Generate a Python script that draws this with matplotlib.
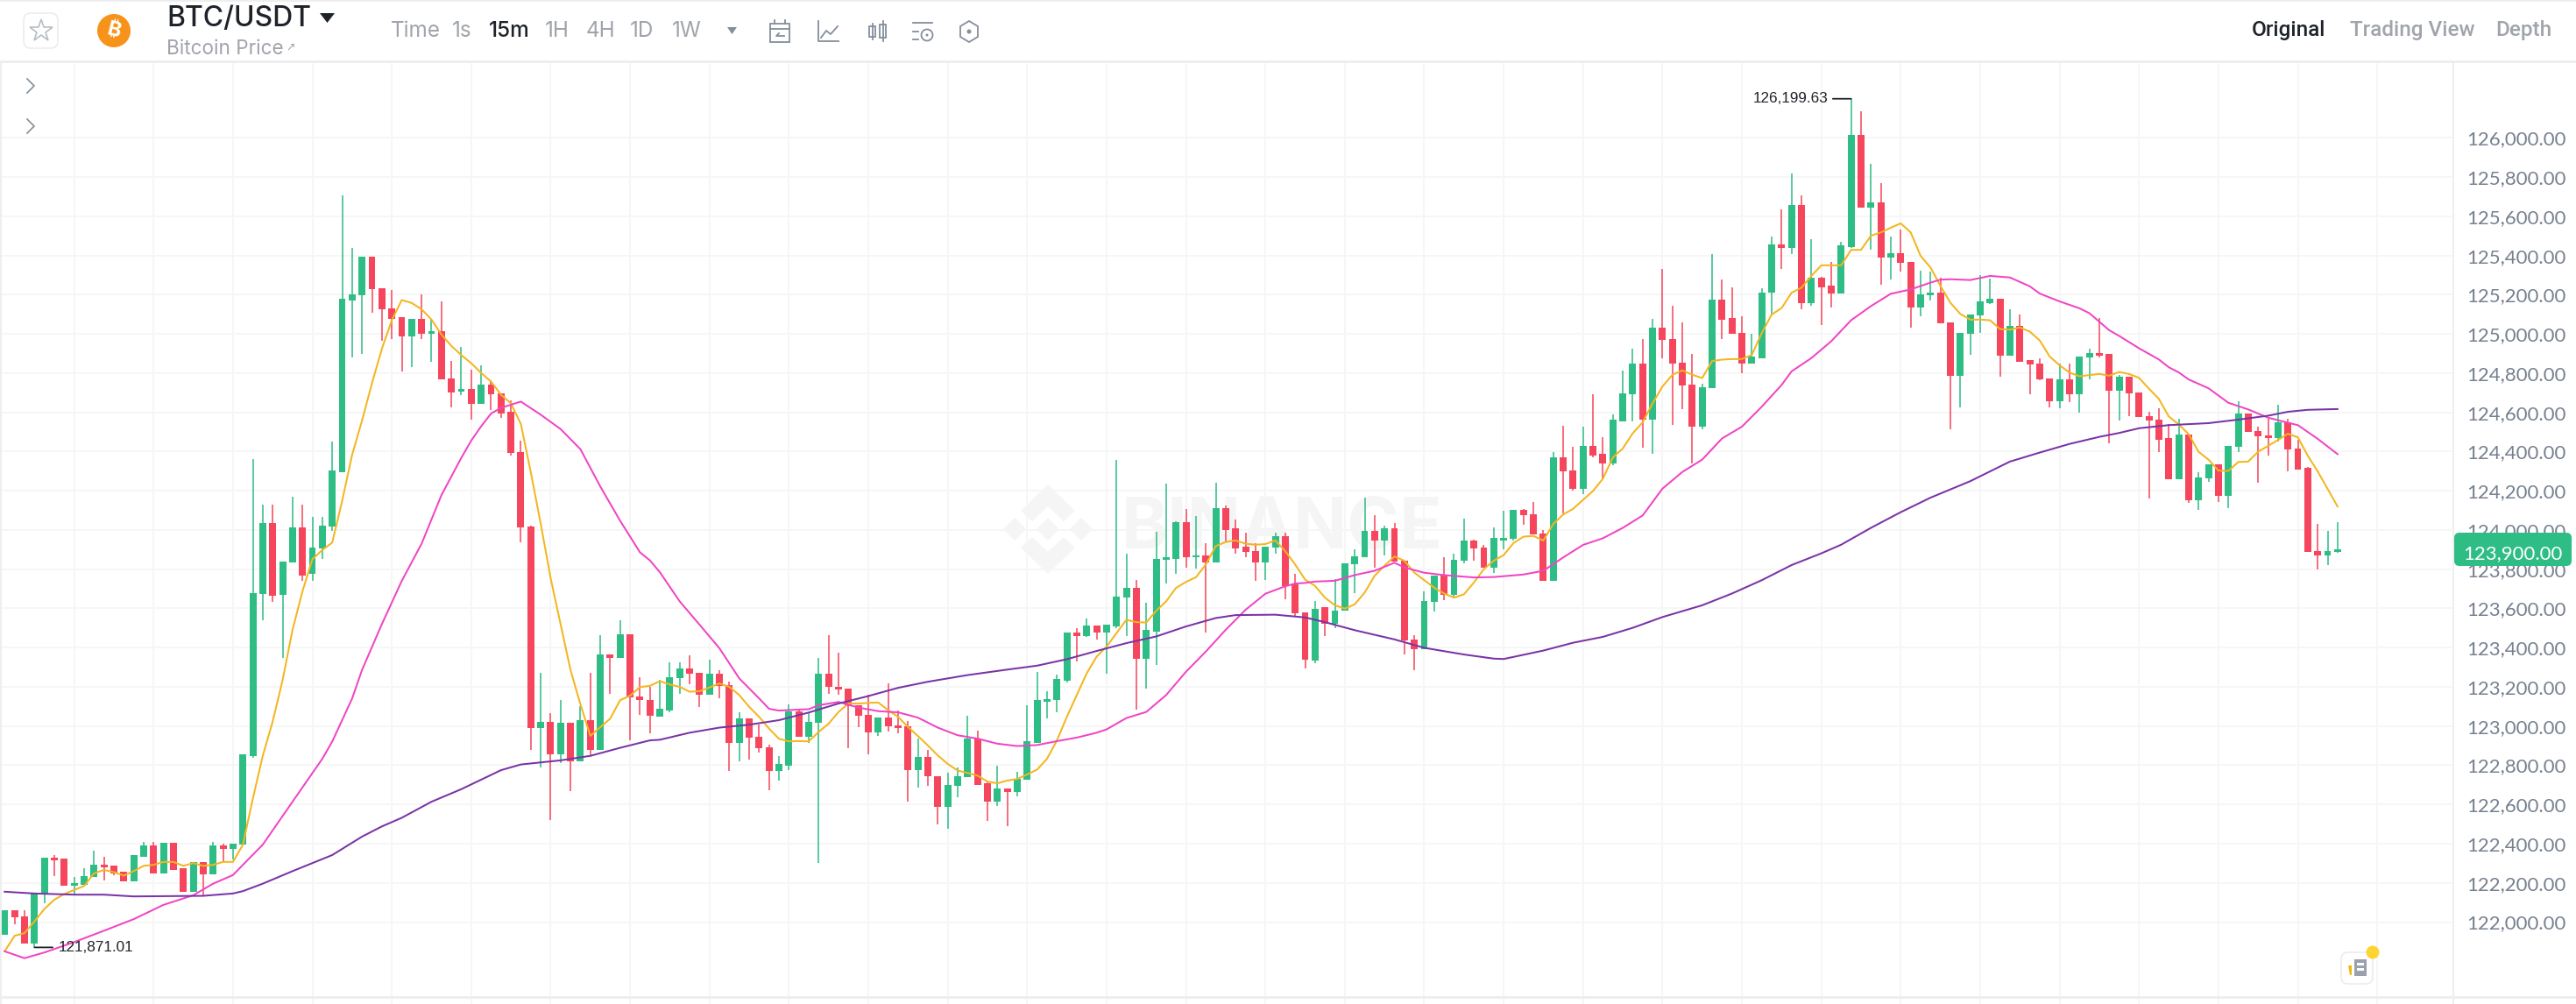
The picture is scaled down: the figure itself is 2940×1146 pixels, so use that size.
import matplotlib
matplotlib.use("Agg")
import matplotlib.pyplot as plt
import numpy as np
from matplotlib.patches import Circle, FancyBboxPatch, Polygon, Rectangle

# =====================================================================
# Candle data (BTC/USDT 15m)
# =====================================================================
opens = [
    121936, 122059, 122031, 121892, 122144, 122329, 122322, 122185, 122191, 122230,
    122293, 122287, 122256, 122209, 122335, 122391, 122247, 122404, 122273, 122153,
    122308, 122244, 122391, 122372, 122395, 122848, 123672, 124035, 123667, 123836,
    124012, 123775, 123906, 124017, 124295, 125170, 125196, 125395, 125234, 125132,
    125085, 124988, 125076, 125000, 125015, 124775, 124705, 124719, 124643, 124743,
    124699, 124602, 124398, 124017, 122988, 123023, 122857, 123017, 122819, 123029,
    122877, 123365, 123348, 123468, 123152, 123135, 123050, 123081, 123243, 123293,
    123272, 123158, 123269, 123209, 122912, 123038, 122946, 122893, 122770, 122799,
    123074, 122947, 123017, 123269, 123202, 123192, 123105, 123058, 122966, 123045,
    123004, 123000, 122775, 122843, 122746, 122589, 122693, 122739, 122935, 122708,
    122614, 122682, 122665, 122727, 122915, 123125, 123132, 123233, 123477, 123460,
    123511, 123477, 123508, 123655, 123706, 123344, 123482, 123846, 123853, 124038,
    123860, 123872, 123836, 124111, 124009, 123913, 123894, 123834, 123911, 123969,
    123722, 123580, 123336, 123607, 123523, 123587, 123826, 123860, 123994, 123946,
    124009, 123843, 123443, 123390, 123634, 123766, 123669, 123843, 123946, 123911,
    123806, 123946, 123954, 124103, 124079, 123980, 123741, 124370, 124303, 124212,
    124428, 124387, 124339, 124554, 124691, 124851, 124564, 125034, 124975, 124855,
    124740, 124527, 124722, 125176, 125081, 125004, 124848, 124877, 125209, 125458,
    125439, 125657, 125157, 125287, 125245, 125205, 125445, 126016, 125645, 125673,
    125388, 125412, 125369, 125134, 125196, 125212, 125061, 124787, 125000, 125096,
    125157, 125181, 124888, 125042, 124866, 124851, 124775, 124655, 124769, 124694,
    124879, 124903, 124896, 124710, 124781, 124701, 124580, 124563, 124467, 124258,
    124489, 124150, 124265, 124333, 124172, 124423, 124595, 124503, 124483, 124469,
    124549, 124417, 124317, 123894, 123870, 123888,
]
highs = [
    122059, 122059, 122059, 122144, 122329, 122342, 122322, 122228, 122273, 122363,
    122332, 122287, 122256, 122341, 122407, 122407, 122404, 122404, 122273, 122308,
    122308, 122407, 122400, 122400, 122857, 124363, 124129, 124129, 123839, 124170,
    124129, 124067, 124067, 124453, 125708, 125439, 125395, 125395, 125234, 125225,
    125085, 125076, 125202, 125076, 125164, 124863, 124933, 124816, 124839, 124763,
    124699, 124661, 124456, 124023, 123272, 123067, 123132, 123017, 123102, 123272,
    123462, 123365, 123538, 123468, 123251, 123199, 123235, 123325, 123325, 123359,
    123272, 123337, 123286, 123226, 123069, 123038, 123009, 122906, 122848, 123110,
    123088, 123069, 123347, 123462, 123375, 123192, 123105, 123158, 123045, 123217,
    123081, 123024, 122935, 122876, 122746, 122761, 122790, 123053, 122978, 122720,
    122799, 122682, 122765, 123106, 123277, 123178, 123264, 123477, 123498, 123547,
    123511, 123515, 124357, 123881, 123744, 123631, 123990, 124238, 124043, 124106,
    124072, 123935, 124243, 124127, 124055, 123987, 123935, 123916, 123987, 123987,
    123778, 123580, 123638, 123607, 123749, 123831, 123903, 124164, 124074, 124023,
    124036, 123843, 123464, 123686, 123766, 123860, 123877, 124057, 123950, 123925,
    124014, 124100, 124103, 124108, 124142, 124000, 124399, 124530, 124424, 124527,
    124691, 124472, 124588, 124814, 124925, 124974, 125079, 125330, 125142, 125060,
    124900, 124744, 125407, 125279, 125236, 125089, 125000, 125234, 125499, 125634,
    125819, 125709, 125484, 125291, 125369, 125469, 126199.63, 126136, 125866, 125770,
    125499, 125534, 125369, 125324, 125316, 125287, 125061, 125006, 125101, 125299,
    125281, 125181, 125124, 125101, 124866, 124876, 124775, 124848, 124851, 124885,
    124925, 125082, 124896, 124790, 124781, 124701, 124603, 124619, 124539, 124569,
    124489, 124293, 124333, 124333, 124427, 124657, 124595, 124529, 124569, 124641,
    124569, 124459, 124320, 124030, 123994, 124038,
]
lows = [
    121936, 121987, 121889, 121871.01, 122096, 122236, 122187, 122141, 122191, 122230,
    122212, 122240, 122209, 122209, 122335, 122247, 122247, 122265, 122153, 122153,
    122133, 122244, 122305, 122320, 122390, 122839, 123541, 123634, 123348, 123836,
    123740, 123740, 123854, 123994, 124295, 124880, 124898, 125108, 124965, 124974,
    124807, 124830, 124974, 124857, 124769, 124626, 124687, 124561, 124643, 124611,
    124570, 124380, 123936, 122877, 122789, 122520, 122810, 122667, 122819, 122848,
    122877, 123164, 123348, 122927, 123058, 122962, 123050, 123069, 123166, 123214,
    123098, 123158, 123144, 122770, 122819, 122828, 122865, 122674, 122722, 122775,
    122947, 122913, 122301, 123166, 123161, 122889, 122993, 122857, 122949, 122970,
    122965, 122614, 122688, 122696, 122500, 122474, 122636, 122739, 122701, 122517,
    122590, 122491, 122643, 122727, 122913, 123041, 123069, 123221, 123329, 123456,
    123443, 123269, 123499, 123457, 123084, 123192, 123311, 123727, 123778, 123807,
    123805, 123477, 123836, 123939, 123881, 123863, 123742, 123747, 123881, 123645,
    123556, 123294, 123319, 123459, 123498, 123587, 123676, 123860, 123809, 123869,
    123840, 123365, 123284, 123390, 123583, 123641, 123658, 123831, 123843, 123806,
    123783, 123900, 123946, 124028, 123977, 123741, 123741, 124086, 124199, 124182,
    124370, 124262, 124330, 124554, 124552, 124421, 124387, 124875, 124535, 124616,
    124339, 124515, 124722, 124976, 124999, 124800, 124848, 124877, 125099, 125330,
    125407, 125127, 125142, 125045, 125134, 125205, 125440, 125645, 125431, 125252,
    125279, 125316, 125031, 125090, 125172, 125055, 124512, 124627, 124893, 125004,
    125151, 124784, 124888, 124860, 124693, 124762, 124627, 124621, 124652, 124599,
    124769, 124880, 124442, 124557, 124579, 124575, 124160, 124399, 124258, 124258,
    124140, 124102, 124246, 124142, 124110, 124399, 124499, 124243, 124379, 124449,
    124299, 124307, 123890, 123800, 123822, 123882,
]
closes = [
    122059, 122025, 121889, 122144, 122329, 122314, 122187, 122197, 122236, 122293,
    122280, 122247, 122209, 122341, 122391, 122247, 122404, 122265, 122153, 122308,
    122244, 122391, 122372, 122400, 122857, 123678, 124035, 123664, 123839, 124012,
    123769, 123912, 124023, 124304, 125178, 125202, 125395, 125228, 125126, 125079,
    124988, 125076, 125000, 125015, 124769, 124702, 124719, 124643, 124743, 124693,
    124594, 124392, 124012, 122988, 123023, 122857, 123017, 122819, 123029, 122877,
    123365, 123348, 123468, 123146, 123132, 123053, 123086, 123250, 123293, 123265,
    123158, 123269, 123205, 122912, 123038, 122939, 122888, 122770, 122806, 123074,
    122947, 123021, 123269, 123199, 123187, 123101, 123053, 122966, 123045, 122997,
    122990, 122775, 122843, 122744, 122589, 122698, 122742, 122935, 122701, 122614,
    122682, 122665, 122730, 122922, 123132, 123139, 123240, 123477, 123460, 123511,
    123477, 123515, 123662, 123706, 123344, 123489, 123853, 123860, 124038, 123862,
    123872, 123836, 124111, 124002, 123906, 123887, 123834, 123916, 123969, 123713,
    123576, 123337, 123599, 123523, 123588, 123831, 123865, 123994, 123946, 124009,
    123840, 123436, 123390, 123638, 123766, 123669, 123850, 123946, 123906, 123806,
    123959, 123959, 124103, 124076, 123977, 123741, 124371, 124300, 124212, 124428,
    124378, 124339, 124561, 124698, 124851, 124564, 125034, 124968, 124848, 124735,
    124527, 124728, 125176, 125074, 124999, 124848, 124884, 125212, 125458, 125439,
    125657, 125157, 125287, 125239, 125205, 125451, 126016, 125645, 125673, 125388,
    125412, 125364, 125134, 125202, 125212, 125055, 124787, 125006, 125101, 125164,
    125179, 124888, 125042, 124860, 124845, 124767, 124655, 124769, 124694, 124885,
    124903, 124888, 124710, 124784, 124697, 124575, 124558, 124461, 124258, 124489,
    124150, 124270, 124333, 124172, 124427, 124595, 124499, 124477, 124469, 124549,
    124413, 124307, 123890, 123870, 123894, 123900,
]

ma7 = [
    121851, 121930, 121944, 122003, 122067, 122114, 122143, 122164, 122184, 122249,
    122266, 122255, 122237, 122260, 122287, 122292, 122307, 122307, 122287, 122301,
    122287, 122292, 122307, 122307, 122395, 122629, 122848, 123023, 123234, 123491,
    123687, 123851, 123898, 123936, 124149, 124383, 124558, 124748, 124924, 125070,
    125173, 125158, 125126, 125073, 124997, 124939, 124892, 124851, 124801, 124757,
    124690, 124646, 124541, 124295, 124032, 123754, 123520, 123286, 123111, 122950,
    122994, 123038, 123132, 123155, 123199, 123205, 123229, 123212, 123200, 123175,
    123178, 123197, 123217, 123200, 123158, 123098, 123047, 122987, 122935, 122922,
    122923, 122922, 122970, 123012, 123072, 123115, 123115, 123118, 123120, 123081,
    123047, 122995, 122949, 122901, 122850, 122807, 122773, 122761, 122747, 122717,
    122708, 122722, 122730, 122753, 122778, 122833, 122927, 123047, 123158, 123269,
    123354, 123405, 123474, 123542, 123530, 123528, 123588, 123636, 123705, 123735,
    123759, 123824, 123918, 123939, 123947, 123930, 123925, 123928, 123947, 123892,
    123824, 123747, 123715, 123655, 123616, 123599, 123621, 123681, 123766, 123818,
    123865, 123843, 123783, 123744, 123706, 123676, 123655, 123672, 123732, 123800,
    123843, 123872, 123934, 123966, 123970, 123946, 124031, 124079, 124108, 124154,
    124199, 124262, 124370, 124416, 124493, 124549, 124646, 124732, 124792, 124814,
    124792, 124775, 124862, 124869, 124872, 124872, 124893, 125005, 125099, 125132,
    125210, 125236, 125296, 125350, 125350, 125350, 125429, 125429, 125501, 125518,
    125542, 125564, 125518, 125398, 125339, 125245, 125159, 125102, 125073, 125073,
    125070, 125025, 125022, 125033, 125012, 124967, 124885, 124840, 124803, 124784,
    124790, 124796, 124787, 124806, 124796, 124776, 124721, 124669, 124579, 124539,
    124489, 124399, 124359, 124303, 124301, 124347, 124349, 124399, 124429, 124459,
    124491, 124473, 124379, 124299, 124210, 124120,
]

ma25_idx = [
    0, 2, 4, 7, 10, 13, 16, 19, 21, 23, 24, 26, 28, 30, 32, 33, 35, 36, 38, 40, 42, 44, 46,
    47, 48, 49, 50, 52, 54, 56, 58, 60, 62, 64, 65, 66, 68, 70, 72, 74, 76, 77, 78, 80, 81,
    82, 84, 86, 88, 90, 92, 94, 96, 98, 100, 102, 104, 106, 108, 110, 111, 113, 115, 117,
    119, 121, 123, 125, 127, 129, 130, 131, 132, 134, 136, 138, 140, 141, 143, 145, 148,
    150, 153, 155, 157, 159, 161, 163, 165, 167, 169, 171, 173, 175, 177, 179, 180, 182,
    184, 186, 188, 190, 192, 194, 195, 196, 198, 200, 202, 204, 205, 207, 209, 210, 212,
    213, 215, 217, 218, 219, 220, 222, 224, 226, 228, 230, 231, 233, 235,
]
ma25_val = [
    121851, 121816, 121845, 121898, 121956, 122015, 122088, 122137, 122196, 122240, 122292,
    122395, 122541, 122687, 122833, 122921, 123140, 123286, 123520, 123740, 123930, 124178,
    124368, 124456, 124529, 124594, 124623, 124655, 124588, 124515, 124412, 124222, 124047,
    123886, 123845, 123785, 123636, 123517, 123397, 123243, 123141, 123088, 123079, 123084,
    123086, 123106, 123123, 123094, 123076, 123070, 123043, 122992, 122953, 122936, 122910,
    122898, 122903, 122923, 122941, 122966, 122983, 123041, 123072, 123158, 123277, 123380,
    123491, 123593, 123675, 123713, 123727, 123730, 123737, 123741, 123770, 123792, 123833,
    123809, 123782, 123770, 123758, 123760, 123773, 123792, 123860, 123924, 123958, 124011,
    124074, 124211, 124296, 124359, 124467, 124527, 124629, 124740, 124809, 124877, 124963,
    125070, 125142, 125205, 125227, 125262, 125277, 125279, 125275, 125296, 125288, 125243,
    125206, 125166, 125131, 125106, 125019, 124990, 124927, 124870, 124830, 124804, 124768,
    124723, 124649, 124615, 124573, 124547, 124535, 124465, 124387,
]

ma99_idx = [
    0, 3, 7, 10, 13, 20, 23, 24, 26, 29, 33, 36, 38, 40, 43, 46, 50, 52, 56, 59, 62, 65, 66,
    69, 72, 75, 78, 81, 84, 87, 90, 93, 97, 101, 104, 107, 110, 113, 116, 119, 122, 124, 128,
    131, 133, 136, 140, 143, 147, 150, 151, 155, 158, 161, 164, 167, 170, 171, 174, 177, 180,
    183, 185, 188, 191, 194, 197, 198, 200, 202, 205, 208, 211, 213, 215, 218, 222, 225, 228,
    230, 232, 235,
]
ma99_val = [
    122155, 122146, 122140, 122140, 122131, 122134, 122146, 122158, 122196, 122260, 122342,
    122436, 122488, 122532, 122614, 122678, 122775, 122804, 122825, 122848, 122889, 122927,
    122930, 122966, 122992, 123007, 123030, 123069, 123115, 123153, 123195, 123226, 123260,
    123288, 123308, 123341, 123383, 123423, 123457, 123508, 123551, 123566, 123568, 123554,
    123530, 123489, 123442, 123399, 123365, 123344, 123342, 123385, 123425, 123455, 123501,
    123556, 123601, 123616, 123676, 123744, 123821, 123881, 123925, 124011, 124091, 124165,
    124228, 124249, 124299, 124349, 124395, 124439, 124475, 124495, 124519, 124535, 124545,
    124563, 124583, 124603, 124613, 124617,
]

price_ticks = np.arange(122000, 126001, 200)
last_price = 123900.00
high_idx, low_idx = 186, 3

GREEN = "#2ebd85"
RED = "#f6465d"
GRID = "#f6f6f6"
BORDER = "#eeeeee"
GREY = "#a0a4ab"
TICK = "#76808f"

W, H = 2940, 1146
# where the candles sit in the screenshot
X0, X_STEP = 5.3, 11.33
Y126K, Y_PER_USD = 157.4, 0.22378
CHART_TOP, CHART_RIGHT = 70, 2800

plt.rcParams["font.family"] = ["Lato", "DejaVu Sans"]


def px_axes(fig, zorder):
    a = fig.add_axes([0, 0, 1, 1], zorder=zorder)
    a.set_xlim(0, W)
    a.set_ylim(H, 0)
    a.axis("off")
    a.patch.set_visible(False)
    return a


def draw_watermark(a):
    c = "#f5f5f5"
    cx, cy = 1196, 604
    chevron = [(0, -51), (31, -21), (18, -9), (0, -26), (-18, -9), (-31, -21)]
    a.add_patch(Polygon([(cx + x, cy + y) for x, y in chevron], color=c, lw=0))
    a.add_patch(Polygon([(cx + x, cy - y) for x, y in chevron], color=c, lw=0))
    for dx in (-38, 0, 38):
        diamond = [(cx + dx, cy - 13), (cx + dx + 13, cy), (cx + dx, cy + 13), (cx + dx - 13, cy)]
        a.add_patch(Polygon(diamond, color=c, lw=0))
    a.text(1463, 605, "BINANCE", color=c, fontsize=58, fontweight="bold", family="Inter",
           ha="center", va="center")


def draw_candles(ax):
    x = np.arange(len(opens))
    o, h, l, c = map(np.array, (opens, highs, lows, closes))
    up = c >= o
    ax.vlines(x[up], l[up], h[up], color=GREEN, lw=1.4, alpha=0.8, zorder=2)
    ax.vlines(x[~up], l[~up], h[~up], color=RED, lw=1.4, alpha=0.8, zorder=2)
    ax.bar(x[up], (c - o)[up], bottom=o[up], width=0.7, color=GREEN, zorder=3)
    ax.bar(x[~up], (c - o)[~up], bottom=o[~up], width=0.7, color=RED, zorder=3)

    ax.plot(x, ma7, color="#f3b61f", lw=1.45, zorder=4, solid_joinstyle="round")
    ax.plot(ma25_idx, ma25_val, color="#f045c4", lw=1.45, zorder=4)
    ax.plot(ma99_idx, ma99_val, color="#7a33a6", lw=1.45, zorder=4)

    # high / low labels
    hi = highs[high_idx]
    lo = lows[low_idx]
    ax.annotate("", xy=(high_idx, hi), xytext=(-15, 0), textcoords="offset points",
                arrowprops=dict(arrowstyle="-", color="#1e2329", lw=1.3, shrinkA=0, shrinkB=0), zorder=6)
    ax.annotate(f"{hi:,.2f}", xy=(high_idx, hi), xytext=(-18.5, 0), textcoords="offset points",
                ha="right", va="center", fontsize=12.3, family="Liberation Sans", color="#1e2329", zorder=6)
    ax.annotate("", xy=(low_idx, lo), xytext=(15, 0), textcoords="offset points",
                arrowprops=dict(arrowstyle="-", color="#1e2329", lw=1.3, shrinkA=0, shrinkB=0), zorder=6)
    ax.annotate(f"{lo:,.2f}", xy=(low_idx, lo), xytext=(20, 0), textcoords="offset points",
                ha="left", va="center", fontsize=12.3, family="Liberation Sans", color="#1e2329", zorder=6)


def draw_header(a):
    # frame lines
    a.add_patch(Rectangle((0, 0), W, 2, color=BORDER, lw=0))
    a.add_patch(Rectangle((0, CHART_TOP - 1), W, 2.5, color=BORDER, lw=0))
    a.add_patch(Rectangle((0, CHART_TOP), 2, H - CHART_TOP, color=BORDER, lw=0))
    a.add_patch(Rectangle((CHART_RIGHT - 1, CHART_TOP), 2, H - CHART_TOP, color=BORDER, lw=0))
    a.add_patch(Rectangle((0, 1137), W, 2.5, color=BORDER, lw=0))

    # favourite star
    a.add_patch(FancyBboxPatch((31, 19), 31, 32, boxstyle="round,pad=4,rounding_size=8",
                               fc="white", ec=BORDER, lw=1.3))
    a.plot([47], [35], marker="*", ms=19, mfc="white", mec="#b7bdc6", mew=1.2, ls="none")

    # coin
    a.add_patch(Circle((130, 35), 19, color="#f7931a", lw=0))
    a.text(130, 35, "\u20bf", color="white", fontsize=17, fontweight="bold",
           family=["Inter", "Noto Sans", "Roboto", "Open Sans", "DejaVu Sans"],
           ha="center", va="center", rotation=-14)

    a.text(190, 22, "BTC/USDT", fontsize=23, fontweight="medium", family="Inter", color="#1e2329",
           ha="left", va="center")
    a.add_patch(Polygon([(365, 15), (382, 15), (373.5, 26)], color="#1e2329", lw=0))
    a.text(190, 56, "Bitcoin Price", fontsize=16.2, color=GREY, ha="left", va="center", family="Inter")
    a.text(332, 54, "\u2197", fontsize=9, color=GREY, ha="center", va="center", family="DejaVu Sans")

    intervals = [("Time", 446), ("1s", 516), ("15m", 558), ("1H", 622), ("4H", 669), ("1D", 719), ("1W", 767)]
    for name, x in intervals:
        a.text(x, 35, name, fontsize=17.5, ha="left", va="center", family="Inter",
               color="#1e2329" if name == "15m" else GREY,
               fontweight="medium" if name == "15m" else "normal")
    a.add_patch(Polygon([(830, 31), (841, 31), (835.5, 39)], color="#848e9c", lw=0))

    # toolbar icons
    ic = dict(color="#848e9c", lw=1.3)
    a.add_patch(Rectangle((879, 27), 22, 21, fc="none", ec="#848e9c", lw=1.3))
    a.plot([879, 901], [33, 33], **ic)
    a.plot([884, 884], [23, 27], **ic)
    a.plot([896, 896], [23, 27], **ic)
    a.plot([895, 886, 889], [41, 41, 38], **ic)
    a.plot([934, 934, 957], [24, 47, 47], **ic)
    a.plot([937, 943, 948, 956], [43, 35, 39, 30], **ic)
    a.plot([996, 996], [27, 45], **ic)
    a.plot([1008, 1008], [24, 47], **ic)
    a.add_patch(Rectangle((992.5, 30), 7, 12, fc="none", ec="#848e9c", lw=1.3))
    a.add_patch(Rectangle((1004.5, 28), 7, 15, fc="none", ec="#848e9c", lw=1.3))
    a.plot([1042, 1064], [26, 26], **ic)
    a.plot([1042, 1048], [36, 36], **ic)
    a.plot([1042, 1048], [45, 45], **ic)
    a.add_patch(Circle((1058, 40), 6.5, fc="none", ec="#848e9c", lw=1.3))
    a.add_patch(Circle((1058, 40), 1.5, color="#848e9c", lw=0))
    a.add_patch(Polygon([(1106, 24), (1116, 30), (1116, 42), (1106, 48), (1096, 42), (1096, 30)],
                        fc="none", ec="#848e9c", lw=1.3))
    a.add_patch(Circle((1106, 36), 2.5, color="#848e9c", lw=0))

    for name, x, col in [("Original", 2570, "#1e2329"),
                         ("Trading View", 2682, GREY),
                         ("Depth", 2848, GREY)]:
        a.text(x, 35, name, fontsize=17.5, color=col, fontweight="medium", family="Roboto", ha="left", va="center")

    # side arrows
    for y in (98, 144):
        a.plot([31, 39, 31], [y - 8, y, y + 8], color="#848e9c", lw=1.2)

    # last price badge
    a.add_patch(FancyBboxPatch((2806, 613), 124, 28, boxstyle="round,pad=5,rounding_size=6", fc=GREEN, lw=0))
    a.text(2868, 632, f"{last_price:,.2f}", color="white", fontsize=16, ha="center", va="center")

    # news widget
    a.add_patch(FancyBboxPatch((2676, 1091), 28, 28, boxstyle="round,pad=4,rounding_size=8",
                               fc="white", ec=BORDER, lw=1.3))
    a.add_patch(Rectangle((2687, 1095), 14, 19, color="#9aa1ad", lw=0))
    a.add_patch(Rectangle((2690, 1099), 8, 3, color="white", lw=0))
    a.add_patch(Rectangle((2690, 1105), 8, 3, color="white", lw=0))
    a.add_patch(Polygon([(2680, 1102), (2684, 1102), (2684, 1113), (2682, 1113)], color="#f0b90b", lw=0))
    a.add_patch(Circle((2708, 1087), 7.5, color="#fcd535", lw=0))


def main():
    fig = plt.figure(figsize=(W / 100, H / 100), dpi=100, facecolor="white")

    bg = px_axes(fig, 0)
    draw_watermark(bg)

    ax = fig.add_axes([0, 0, CHART_RIGHT / W, (H - CHART_TOP) / H], zorder=1)
    ax.patch.set_visible(False)
    ax.set_xlim(-X0 / X_STEP, (CHART_RIGHT - X0) / X_STEP)
    ax.set_ylim(126000 - (H - Y126K) / Y_PER_USD, 126000 + (Y126K - CHART_TOP) / Y_PER_USD)
    for s in ax.spines.values():
        s.set_visible(False)
    ax.yaxis.tick_right()
    ax.set_yticks(price_ticks)
    ax.set_yticklabels([f"{v:,.2f}" for v in price_ticks], fontsize=16, color=TICK)
    ax.tick_params(axis="y", length=0, pad=11)
    ax.set_xticks(np.arange(7, 245, 8))
    ax.tick_params(axis="x", length=0, labelbottom=False)
    ax.grid(True, color=GRID, lw=1.4, zorder=0)
    ax.set_axisbelow(True)

    draw_candles(ax)

    ui = px_axes(fig, 2)
    draw_header(ui)

    fig.savefig("out.png", dpi=100, facecolor="white")


if __name__ == "__main__":
    main()
